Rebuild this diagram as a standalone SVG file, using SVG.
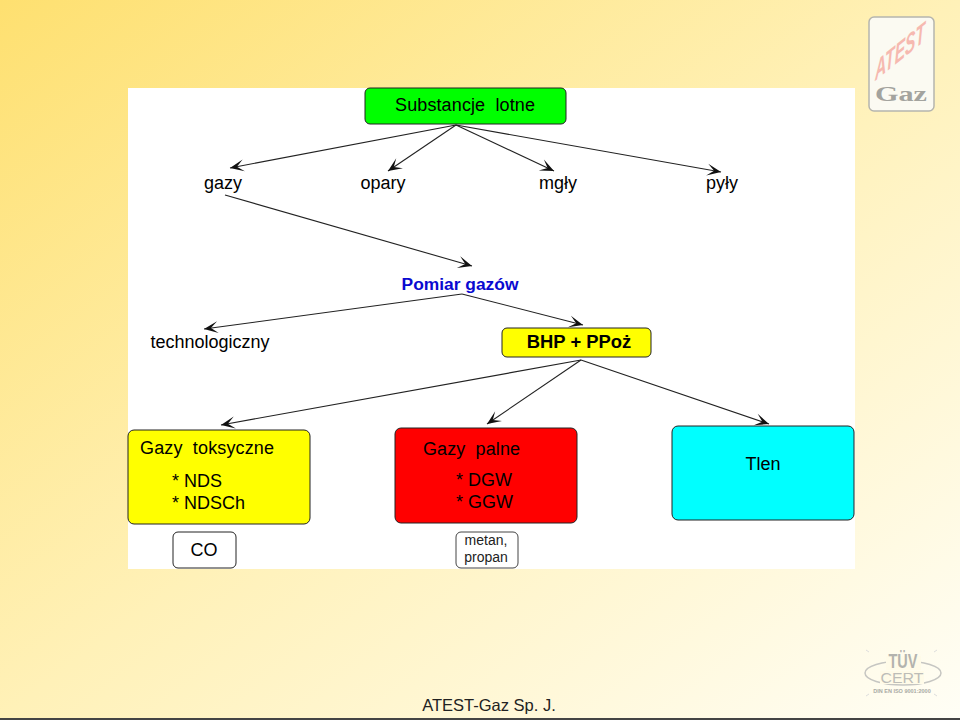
<svg xmlns="http://www.w3.org/2000/svg" width="960" height="720" viewBox="0 0 960 720">
<defs>
<linearGradient id="bg" x1="0" y1="0" x2="1" y2="1">
<stop offset="0" stop-color="#fee070"/><stop offset="0.5" stop-color="#fff1b8"/><stop offset="1" stop-color="#fffef6"/>
</linearGradient>
<marker id="arr" markerUnits="userSpaceOnUse" markerWidth="18" markerHeight="14" refX="15" refY="7" orient="auto">
<path d="M1,1 L15,7 L1,13 L8,7 Z" fill="#111"/>
</marker>
</defs>
<style>
text{font-family:"Liberation Sans",Arial,sans-serif;fill:#000}
.t{font-size:18px}
.box{stroke:#222;stroke-width:1}
.c line{stroke:#222;stroke-width:1.1;marker-end:url(#arr)}
</style>
<rect width="960" height="720" fill="url(#bg)"/>
<rect x="128" y="88" width="727" height="481" fill="#fff"/>
<g id="logo-atest">
<rect x="869" y="17" width="65" height="94" rx="5" fill="#fbfaf2" stroke="#b5b5ae" stroke-width="1.5"/>
<text transform="translate(875,81) skewY(-39)" font-size="28" font-weight="bold" font-style="italic" textLength="50" lengthAdjust="spacingAndGlyphs" style="fill:#f6b9b0">ATEST</text>
<text x="901" y="101" text-anchor="middle" font-size="21" font-weight="bold" textLength="52" lengthAdjust="spacingAndGlyphs" style="fill:#a3a39e;font-family:'Liberation Serif',serif">Gaz</text>
</g>
<g id="logo-tuv">
<path d="M866,650l3,2M937,650l-3,2M866,696l3,-2M937,696l-3,-2" fill="none" stroke="#ddd" stroke-width="1"/>
<ellipse cx="903" cy="673" rx="38" ry="12" fill="none" stroke="#c6c6c2" stroke-width="1.5"/>
<rect x="886" y="656" width="35" height="14" fill="#fffbe8"/>
<text x="903" y="668" text-anchor="middle" font-size="20" font-weight="bold" textLength="29" lengthAdjust="spacingAndGlyphs" style="fill:#b3b3ae">TÜV</text>
<rect x="880" y="671" width="44" height="13" fill="#fffbe8"/>
<text x="902" y="683" text-anchor="middle" font-size="15" textLength="43" lengthAdjust="spacingAndGlyphs" style="fill:#bdbdb8">CERT</text>
<text x="902" y="693" text-anchor="middle" font-size="5.5" font-weight="bold" style="fill:#a9a9a4">DIN EN ISO 9001:2000</text>
</g>
<g class="c" id="connectors">
<line x1="456" y1="125" x2="230" y2="168"/>
<line x1="456" y1="125" x2="388" y2="171"/>
<line x1="456" y1="125" x2="554" y2="171"/>
<line x1="456" y1="125" x2="721" y2="172"/>
<line x1="225" y1="195" x2="472" y2="266"/>
<line x1="462" y1="294" x2="204" y2="329"/>
<line x1="462" y1="294" x2="583" y2="325"/>
<line x1="581" y1="360" x2="221" y2="425"/>
<line x1="581" y1="360" x2="487" y2="424"/>
<line x1="581" y1="360" x2="769" y2="424"/>
</g>
<g id="n-substancje">
<rect class="box" x="365" y="88" width="201" height="36" rx="5" fill="#00ff00"/>
<text class="t" x="465" y="111" text-anchor="middle" textLength="140" xml:space="preserve">Substancje  lotne</text>
</g>
<g id="n-gazy"><text class="t" x="223" y="189" text-anchor="middle">gazy</text></g>
<g id="n-opary"><text class="t" x="383" y="189" text-anchor="middle">opary</text></g>
<g id="n-mgly"><text class="t" x="558" y="189" text-anchor="middle">mgły</text></g>
<g id="n-pyly"><text class="t" x="722" y="189" text-anchor="middle">pyły</text></g>
<g id="n-pomiar"><text x="460" y="290" text-anchor="middle" font-size="17.4" font-weight="bold" style="fill:#0a0ad0">Pomiar gazów</text></g>
<g id="n-technologiczny"><text class="t" x="210" y="348" text-anchor="middle">technologiczny</text></g>
<g id="n-bhp">
<rect class="box" x="502" y="328" width="149" height="29" rx="5" fill="#ffff00"/>
<text x="579" y="348" text-anchor="middle" font-size="18.4" font-weight="bold">BHP + PPoż</text>
</g>
<g id="n-toksyczne">
<rect class="box" x="128" y="430" width="182" height="94" rx="6" fill="#ffff00"/>
<text class="t" x="140" y="454" textLength="134" xml:space="preserve">Gazy  toksyczne</text>
<text class="t" x="172" y="487">* NDS</text>
<text class="t" x="172" y="509">* NDSCh</text>
</g>
<g id="n-palne">
<rect class="box" x="395" y="428" width="182" height="95" rx="6" fill="#ff0000"/>
<text class="t" x="423" y="455" textLength="97" xml:space="preserve">Gazy  palne</text>
<text class="t" x="456" y="486">* DGW</text>
<text class="t" x="456" y="508">* GGW</text>
</g>
<g id="n-tlen">
<rect class="box" x="672" y="426" width="182" height="94" rx="6" fill="#00ffff"/>
<text class="t" x="763" y="470" text-anchor="middle">Tlen</text>
</g>
<g id="n-co">
<rect class="box" x="173" y="532" width="63" height="36" rx="5" fill="#fff"/>
<text x="204" y="556" text-anchor="middle" font-size="18">CO</text>
</g>
<g id="n-metan">
<rect x="456" y="532" width="62" height="36" rx="5" fill="#fff" stroke="#444"/>
<text x="486" y="545" text-anchor="middle" font-size="14" style="fill:#222">metan,</text>
<text x="486" y="562" text-anchor="middle" font-size="14" style="fill:#222">propan</text>
</g>
<text id="footer" x="489" y="711" text-anchor="middle" font-size="16.5" style="fill:#222">ATEST-Gaz Sp. J.</text>
<rect id="bottom-line" x="0" y="718" width="960" height="2" fill="#444"/>
</svg>
